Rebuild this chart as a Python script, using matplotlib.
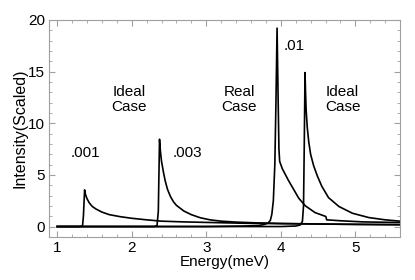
import matplotlib
matplotlib.use("Agg")
import matplotlib.pyplot as plt
from matplotlib.ticker import MultipleLocator

plt.rcParams["font.family"] = ["Liberation Sans", "DejaVu Sans"]

# curve ".001" (ideal case)
x_001 = [1.0, 1.30, 1.34, 1.352, 1.368, 1.38, 1.40, 1.43, 1.47, 1.52, 1.60, 1.70, 1.85, 2.0,
         2.2, 2.4, 2.7, 3.0, 3.5, 4.0, 4.5, 5.0, 5.6]
y_001 = [0, 0, 0.05, 1.0, 3.55, 3.1, 2.7, 2.3, 1.95, 1.7, 1.4, 1.15, 0.95, 0.8,
         0.65, 0.52, 0.45, 0.4, 0.32, 0.28, 0.24, 0.21, 0.18]

# curve ".003" (ideal case)
x_003 = [1.0, 2.30, 2.34, 2.357, 2.373, 2.385, 2.40, 2.415, 2.43, 2.45, 2.48, 2.52, 2.56,
         2.60, 2.70, 2.80, 2.92, 3.05, 3.2, 3.4, 3.7, 4.0, 4.5, 5.0, 5.6]
y_003 = [0, 0, 0.1, 1.5, 8.45, 7.3, 6.3, 5.7, 5.1, 4.4, 3.6, 2.9, 2.4,
         2.05, 1.5, 1.15, 0.85, 0.65, 0.52, 0.43, 0.35, 0.3, 0.25, 0.21, 0.18]

# curve ".01" (real case)
x_01 = [1.0, 3.0, 3.5, 3.7, 3.78, 3.83, 3.86, 3.88, 3.90, 3.92, 3.935, 3.95, 3.965, 3.975,
        3.985, 4.02, 4.10, 4.24, 4.33, 4.46, 4.605, 4.615, 4.8, 5.1, 5.6]
y_01 = [0, 0, 0.05, 0.1, 0.2, 0.35, 0.6, 1.2, 2.5, 6.0, 12.0, 19.2, 12.0, 7.5,
        6.3, 5.6, 4.5, 2.75, 2.0, 1.35, 0.97, 0.65, 0.56, 0.45, 0.39]

# curve ".01" (ideal case)
x_id = [1.0, 3.5, 4.0, 4.2, 4.26, 4.29, 4.305, 4.315, 4.325, 4.332, 4.34, 4.355, 4.375,
        4.40, 4.44, 4.49, 4.55, 4.64, 4.78, 4.96, 5.18, 5.40, 5.6]
y_id = [0, 0, 0.0, 0.05, 0.15, 0.5, 2.0, 8.0, 14.9, 13.0, 11.3, 9.6, 8.2,
        7.0, 5.9, 4.9, 3.9, 2.8, 1.94, 1.29, 0.87, 0.65, 0.52]

labels = [(1.38, 7.1, ".001"), (2.75, 7.1, ".003"), (4.18, 17.5, ".01"),
          (1.96, 12.3, "Ideal\nCase"), (3.44, 12.3, "Real\nCase"), (4.83, 12.3, "Ideal\nCase")]

fig = plt.figure(figsize=(4.15, 2.8), dpi=100)
ax = fig.add_axes([0.118, 0.154, 0.846, 0.775])

for x, y in [(x_001, y_001), (x_003, y_003), (x_01, y_01), (x_id, y_id)]:
    ax.plot(x, y, color="black", lw=1.2)

for x, y, t in labels:
    ax.text(x, y, t, ha="center", va="center", fontsize=11, linespacing=1.1)

ax.set_xlim(0.89, 5.6)
ax.set_ylim(-1, 20)
ax.xaxis.set_major_locator(MultipleLocator(1))
ax.xaxis.set_minor_locator(MultipleLocator(0.2))
ax.yaxis.set_major_locator(MultipleLocator(5))
ax.yaxis.set_minor_locator(MultipleLocator(1))
ax.tick_params(which="both", direction="in", top=True, right=True, color="#a0a0a0",
               labelsize=11, labelcolor="black", pad=3)
ax.tick_params(which="major", length=4, width=0.8)
ax.tick_params(which="minor", length=2, width=0.6)
for s in ax.spines.values():
    s.set_color("#a0a0a0")
    s.set_linewidth(0.8)

ax.set_xlabel("Energy(meV)", fontsize=11, labelpad=0)
ax.set_ylabel("Intensity(Scaled)", fontsize=11.5, labelpad=0)

fig.savefig("out.png", dpi=100)
